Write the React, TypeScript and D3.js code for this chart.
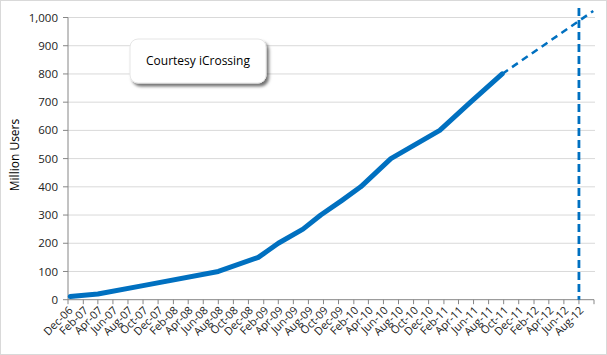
import React from "react";
import * as d3 from "d3";

// Facebook users (millions)
const dates = [
  "2006-12-10", "2007-04-01", "2007-10-01", "2008-08-01", "2009-01-10",
  "2009-02-20", "2009-04-01", "2009-07-10", "2009-09-20", "2009-12-15",
  "2010-03-01", "2010-07-01", "2011-01-15", "2011-05-20", "2011-09-25",
];
const users = [11, 20, 50, 100, 150, 175, 200, 250, 300, 352, 400, 500, 600, 700, 800];
const projDates = ["2011-09-25", "2012-09-28"];
const projUsers = [800, 1023];
const markerDate = "2012-08-01";
const yTicks = [0, 100, 200, 300, 400, 500, 600, 700, 800, 900, 1000];
const calloutText = "Courtesy iCrossing";
const yTitle = "Million Users";

const W = 607, H = 355;
const FONT = "'Open Sans', 'DejaVu Sans', sans-serif";
const BLUE = "#0070C0";

export default function App() {
  const parse = d3.timeParse("%Y-%m-%d");
  const start = new Date(2006, 11, 1);
  const end = new Date(2012, 9, 1);
  const x = d3.scaleTime().domain([start, end]).range([68, 594]);
  const y = d3.scaleLinear().domain([0, 1000]).range([299.7, 17.5]);
  const xTicks = d3.timeMonth.range(start, new Date(2012, 9, 2), 2);
  const fmt = d3.timeFormat("%b-%y");
  const line = d3.line<[Date, number]>().x(d => x(d[0])).y(d => y(d[1]));
  const main: [Date, number][] = dates.map((d, i) => [parse(d)!, users[i]]);
  const proj: [Date, number][] = projDates.map((d, i) => [parse(d)!, projUsers[i]]);
  const mx = x(parse(markerDate)!);
  const lastTick = xTicks[xTicks.length - 1];

  return (
    <svg width={W} height={H} style={{ position: "fixed", left: 0, top: 0, background: "#fff" }}>
      <defs>
        <filter id="sh" x="-20%" y="-30%" width="150%" height="180%">
          <feDropShadow dx="2.5" dy="3" stdDeviation="1.8" floodColor="#000" floodOpacity="0.55" />
        </filter>
      </defs>
      <rect x={0.5} y={0.5} width={W - 1} height={H - 1} fill="#fff" stroke="#D9D9D9" />
      {yTicks.filter(t => t > 0).map(t => (
        <line key={t} x1={68} x2={595} y1={y(t)} y2={y(t)} stroke="#D9D9D9" strokeWidth={1} />
      ))}
      <line x1={68} x2={68} y1={y(1000)} y2={y(0)} stroke="#868686" />
      {yTicks.map(t => (
        <g key={t}>
          <line x1={63} x2={68} y1={y(t)} y2={y(t)} stroke="#868686" />
          <text x={58} y={y(t)} dy="0.35em" textAnchor="end" fontFamily={FONT} fontSize={11.5} fill="#222">
            {d3.format(",")(t)}
          </text>
        </g>
      ))}
      <line x1={68} x2={594} y1={y(0)} y2={y(0)} stroke="#868686" />
      {xTicks.map((t, i) => (
        <g key={i}>
          <line x1={x(t)} x2={x(t)} y1={y(0)} y2={y(0) + 4.5} stroke="#868686" />
          {t.getTime() !== lastTick.getTime() && (
            <text transform={`translate(${x(t) + 3},${y(0) + 9}) rotate(-45)`} textAnchor="end" dy="0.3em"
              fontFamily={FONT} fontSize={11} fill="#222">
              {fmt(t)}
            </text>
          )}
        </g>
      ))}
      <text transform={`translate(19,155) rotate(-90)`} textAnchor="middle" fontFamily={FONT} fontSize={12} fill="#000">
        {yTitle}
      </text>
      <line x1={mx} x2={mx} y1={8} y2={y(0)} stroke={BLUE} strokeWidth={2.8} strokeDasharray="8,4" />
      <path d={line(proj)!} fill="none" stroke={BLUE} strokeWidth={2.5} strokeDasharray="7,5" />
      <path d={line(main)!} fill="none" stroke={BLUE} strokeWidth={5} strokeLinecap="round" strokeLinejoin="round" />
      <rect x={130} y={39} width={136} height={44} rx={8} fill="#fff" stroke="#E6E6E6" filter="url(#sh)" />
      <text x={198} y={61} dy="0.35em" textAnchor="middle" fontFamily={FONT} fontSize={12} fill="#000">
        {calloutText}
      </text>
    </svg>
  );
}
